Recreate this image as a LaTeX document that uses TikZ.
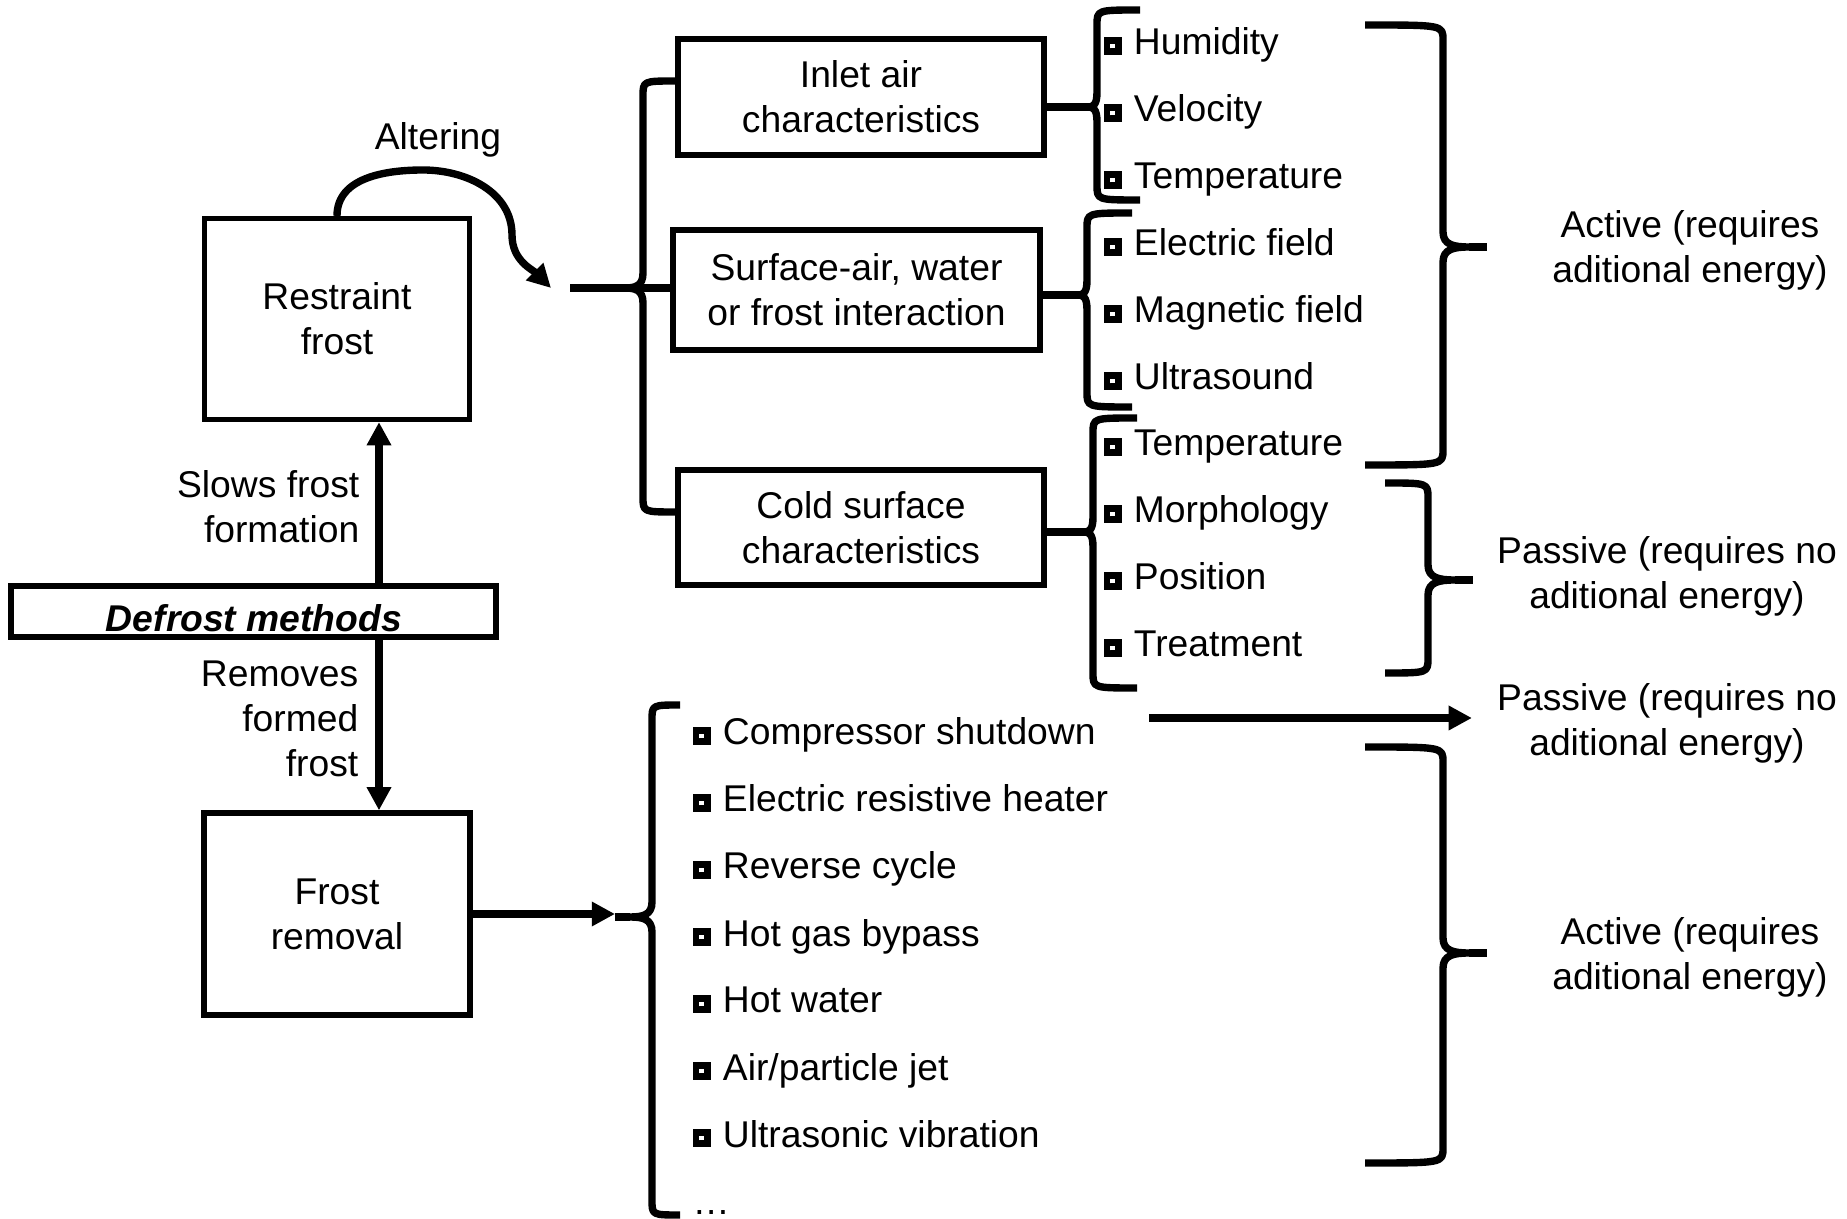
\documentclass[tikz,border=0pt]{standalone}
\usepackage{fontspec}
\setmainfont{Liberation Sans}
\usepackage{tikz}
\usetikzlibrary{positioning, arrows.meta}

\tikzstyle{blockNode}=[draw, line width=1.5pt, align=center, inner sep=0pt]
\tikzstyle{itemNode}=[anchor=base west, inner sep=0pt]
\tikzstyle{sideLabel}=[align=center, inner sep=0pt]
\tikzstyle{flowArrow}=[-{Triangle[length=6.6pt,width=6.6pt]}, line width=2.1pt]
\tikzstyle{flowLine}=[line width=2.1pt]
\tikzstyle{braceLine}=[line width=2.1pt, line join=round]

% small black square with a white hole
\newcommand{\sqbullet}{\raisebox{1.9pt}{\setlength{\fboxsep}{1.9pt}\colorbox{black}{\color{white}\rule{1.3pt}{1.3pt}}}\hspace{3.5pt}}

% brace: spine x, top y, bottom y, nub y, tip length, nub length, nub name
\newcommand{\drawBrace}[7]{%
  \draw[braceLine] ({#1+(#5)},#2) .. controls (#1,#2) .. (#1,{#2-0.15})
    -- (#1,{#4+0.15}) .. controls (#1,{#4+0.02}) and ({#1+0.25*(#6)},#4) .. ({#1+0.6*(#6)},#4)
    .. controls ({#1+0.25*(#6)},#4) and (#1,{#4-0.02}) .. (#1,{#4-0.15})
    -- (#1,{#3+0.15}) .. controls (#1,#3) .. ({#1+(#5)},#3);
  \draw[braceLine] ({#1+0.6*(#6)},#4) -- ({#1+(#6)},#4);
  \coordinate (#7) at ({#1+(#6)},#4);
}

\begin{document}
\begin{tikzpicture}[font=\fontsize{10.6}{12.75}\selectfont]
  \useasboundingbox (0,0) rectangle (18.47,-12.19);

  % defrost methods and the two ways
  \node[blockNode, minimum width=2.65cm, minimum height=2.01cm] (restraint) at (3.37,-3.19) {Restraint\\frost};
  \node[blockNode, minimum width=2.66cm, minimum height=2.02cm] (removal) at (3.37,-9.14) {Frost\\removal};
  \node[blockNode, minimum width=4.85cm, minimum height=0.51cm] (defrost) at (2.535,-6.115) {};
  \node[anchor=base, inner sep=0pt, font=\fontsize{10.6}{12.75}\selectfont\bfseries\itshape] (defrostText) at (2.54,-6.32) {\underline{Defrost methods}};

  \coordinate (upx) at (3.79,0);
  \draw[flowArrow] (defrost.north -| upx) -- (restraint.south -| upx);
  \draw[flowArrow] (defrost.south -| upx) -- (removal.north -| upx);

  \node[anchor=east, align=right, inner sep=0pt] (slows) at (3.60,-5.07) {Slows frost\\formation};
  \node[anchor=east, align=right, inner sep=0pt] (removes) at (3.59,-7.19) {Removes\\formed\\frost};

  \node[inner sep=0pt] (altering) at (4.38,-1.40) {Altering};
  \coordinate (alterTip) at (5.51,-2.88);
  \draw[flowArrow] (restraint.north) to[out=90,in=180] (4.23,-1.70) to[out=0,in=90] (5.12,-2.35) to[out=-90,in=135] (alterTip);

  % what can be altered
  \node[blockNode, minimum width=3.66cm, minimum height=1.16cm] (inlet) at (8.61,-0.97) {Inlet air\\characteristics};
  \node[blockNode, minimum width=3.67cm, minimum height=1.20cm] (surface) at (8.565,-2.90) {Surface-air, water\\or frost interaction};
  \node[blockNode, minimum width=3.66cm, minimum height=1.15cm] (cold) at (8.61,-5.275) {Cold surface\\characteristics};

  \drawBrace{6.43}{-0.81}{-5.12}{-2.88}{0.33}{-0.31}{mainNub}
  \coordinate (alterStart) at (5.70,-2.88);
  \draw[flowLine] (alterStart) -- (alterStart -| surface.west);

  \drawBrace{10.97}{-0.10}{-2.00}{-1.07}{0.43}{-0.15}{inletNub}
  \drawBrace{10.87}{-2.13}{-4.07}{-2.95}{0.45}{-0.15}{surfaceNub}
  \drawBrace{10.93}{-4.18}{-6.88}{-5.32}{0.44}{-0.15}{coldNub}
  \draw[flowLine] (inletNub -| inlet.east) -- (inletNub);
  \draw[flowLine] (surfaceNub -| surface.east) -- (surfaceNub);
  \draw[flowLine] (coldNub -| cold.east) -- (coldNub);

  \node[itemNode] (humidity) at (11.03,-0.55) {\sqbullet Humidity};
  \node[itemNode] (velocity) at (11.03,-1.22) {\sqbullet Velocity};
  \node[itemNode] (airTemp) at (11.03,-1.89) {\sqbullet Temperature};
  \node[itemNode] (electric) at (11.03,-2.56) {\sqbullet Electric field};
  \node[itemNode] (magnetic) at (11.03,-3.23) {\sqbullet Magnetic field};
  \node[itemNode] (ultrasound) at (11.03,-3.90) {\sqbullet Ultrasound};
  \node[itemNode] (surfTemp) at (11.03,-4.56) {\sqbullet Temperature};
  \node[itemNode] (morphology) at (11.03,-5.23) {\sqbullet Morphology};
  \node[itemNode] (position) at (11.03,-5.90) {\sqbullet Position};
  \node[itemNode] (treatment) at (11.03,-6.57) {\sqbullet Treatment};

  \drawBrace{14.43}{-0.25}{-4.65}{-2.47}{-0.78}{0.44}{activeNub}
  \node[sideLabel] (active) at (16.90,-2.50) {Active (requires\\aditional energy)};
  \drawBrace{14.28}{-4.83}{-6.73}{-5.80}{-0.43}{0.45}{passiveNub}
  \node[sideLabel] (passive) at (16.67,-5.76) {Passive (requires no\\aditional energy)};

  % removal techniques
  \drawBrace{6.52}{-7.05}{-12.15}{-9.17}{0.28}{-0.37}{removalNub}
  \draw[flowArrow] (removal.east) -- (removal.east -| removalNub);

  \node[itemNode] (shutdown) at (6.92,-7.45) {\sqbullet Compressor shutdown};
  \node[itemNode] (heater) at (6.92,-8.12) {\sqbullet Electric resistive heater};
  \node[itemNode] (reverse) at (6.92,-8.79) {\sqbullet Reverse cycle};
  \node[itemNode] (hotGas) at (6.92,-9.46) {\sqbullet Hot gas bypass};
  \node[itemNode] (hotWater) at (6.92,-10.13) {\sqbullet Hot water};
  \node[itemNode] (jet) at (6.92,-10.80) {\sqbullet Air/particle jet};
  \node[itemNode] (vibration) at (6.92,-11.47) {\sqbullet Ultrasonic vibration};
  \node[itemNode] (more) at (6.92,-12.14) {\dots};

  \node[sideLabel] (passive2) at (16.67,-7.23) {Passive (requires no\\aditional energy)};
  \coordinate (shutStart) at (11.49,-7.18);
  \draw[flowArrow, shorten >=7pt] (shutStart) -- (shutStart -| passive2.west);

  \drawBrace{14.43}{-7.47}{-11.63}{-9.53}{-0.78}{0.44}{active2Nub}
  \node[sideLabel] (active2) at (16.90,-9.57) {Active (requires\\aditional energy)};

\end{tikzpicture}
\end{document}
